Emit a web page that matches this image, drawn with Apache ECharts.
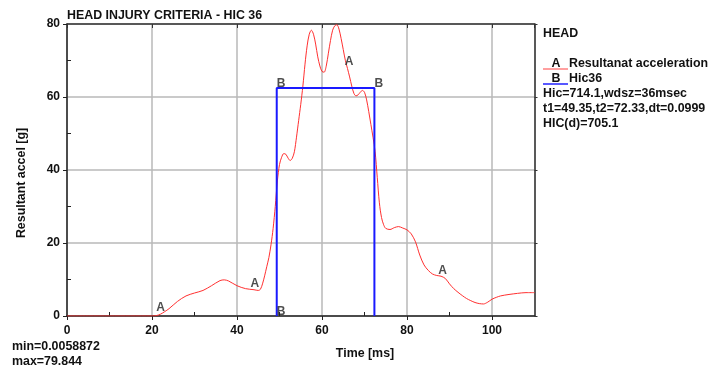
<!DOCTYPE html>
<html>
<head>
<meta charset="utf-8">
<script src="https://cdn.jsdelivr.net/npm/echarts@6/dist/echarts.min.js"></script>
<style>
html,body{margin:0;padding:0;background:#fff;}
#c{width:719px;height:368px;}
</style>
</head>
<body>
<div id="c"></div>
<script>
// ---- data ----
var timeMs = [0,5,10,15,20,21,22,23,24,26,28,30,32,34,36,37,38,40,42,44,45,45.5,46,46.5,47,47.5,48,48.5,49,49.5,50,50.5,51,51.5,52,52.5,53,53.5,54,54.5,55,55.5,56,56.5,57,57.5,58,58.5,59,59.5,60,60.5,61,61.5,62,62.5,63,63.5,64,64.5,65,65.5,66,66.5,67,67.5,68,68.5,69,69.5,70,70.5,71,71.5,72,72.5,73,73.5,74,74.5,75,76,77,78,79,80,81,82,83,84,85,86,87,88,89,90,91,92,93,94,95,96,97,98,99,100,101,102,104,106,108,110];
var accel = [0,0,0,0,0,0.1,0.5,1.2,2.0,4.0,5.5,6.3,7.0,8.3,9.7,9.9,9.6,8.3,7.5,7.2,7.0,7.3,8.8,11,13.5,16,19.5,24,30,37,41.5,43.5,44.5,44.3,43.3,42.6,43.2,45,49,53.5,58,63,69,74,77.2,78.3,77.2,74.5,71,68.5,67,66.8,68.5,72,75.5,78.3,79.5,79.8,78.6,76,73,70,67.8,65.5,63,61,60.3,60.6,61.3,61.8,61.3,59.2,56,52.5,49,45,38,31,27,25,24,23.7,24.2,24.5,24.1,23.6,22.5,20.3,16.7,14,12.5,11.5,11.1,10.9,10.3,8.8,7.5,6.5,5.6,4.8,4.2,3.7,3.4,3.3,3.8,4.6,5.1,5.5,5.9,6.2,6.4,6.4];
var hicTime = [49.35,49.35,72.33,72.33];
var hicValue = [0,62.5,62.5,0];
var markA = [[22,0.5],[44.2,7.2],[66.4,68],[88.4,10.8],[110.2,6.4]];
var markB = [[49.35,0],[49.35,62.5],[72.33,62.5]];
var xTicks = [0,20,40,60,80,100];
var yTicks = [0,20,40,60,80];
var titleText = 'HEAD INJURY CRITERIA - HIC 36';
var legendHeader = 'HEAD';
var legendA = 'Resultanat acceleration';
var legendB = 'Hic36';
var infoLines = ['Hic=714.1,wdsz=36msec','t1=49.35,t2=72.33,dt=0.0999','HIC(d)=705.1'];
var minMax = ['min=0.0058872','max=79.844'];
var xName = 'Time [ms]';
var yName = 'Resultant accel [g]';

var FONT = 'bold 12.4px "Liberation Sans", Arial, sans-serif';
var FF = '"Liberation Sans", Arial, sans-serif';
var chart = echarts.init(document.getElementById('c'), null, {renderer:'canvas'});

function zip(a,b){return a.map(function(v,i){return [v,b[i]];});}

function txt(x,y,t,extra){
  var s = {x:x,y:y,text:t,font:FONT,fill:'#111',textVerticalAlign:'middle'};
  if(extra){for(var k in extra){s[k]=extra[k];}}
  return {type:'text',style:s,silent:true};
}

var graphics = [
  txt(67,15.5,titleText),
  txt(543,34,legendHeader),
  {type:'line',shape:{x1:543,y1:69,x2:568,y2:69},style:{stroke:'#ff4040',lineWidth:1}},
  txt(556,64,'A',{textAlign:'center'}),
  txt(569,64,legendA,{width:141,overflow:'truncate',ellipsis:''}),
  {type:'line',shape:{x1:543,y1:84,x2:568,y2:84},style:{stroke:'#2020ff',lineWidth:1.5}},
  txt(556,79,'B',{textAlign:'center'}),
  txt(569,79,legendB),
  txt(543,94,infoLines[0]),
  txt(543,109,infoLines[1]),
  txt(543,124,infoLines[2]),
  txt(12,346.5,minMax[0]),
  txt(12,361.5,minMax[1]),
  txt(365,354,xName,{textAlign:'center'}),
  {type:'text',x:22,y:183,rotation:Math.PI/2,silent:true,
   style:{x:0,y:0,text:yName,font:FONT,fill:'#111',textAlign:'center',textVerticalAlign:'middle'}}
];

var axisTxt = {color:'#111',fontWeight:'bold',fontSize:12,fontFamily:FF};

var option = {
  animation:false,
  backgroundColor:'#fff',
  grid:{left:67,right:184.5,top:24,bottom:52,show:false},
  xAxis:[
    {type:'value',position:'bottom',min:0,max:110,interval:20,
     axisLine:{show:true,onZero:false,lineStyle:{color:'#222',width:1.5}},
     axisTick:{show:true,length:4,lineStyle:{color:'#222'}},
     axisLabel:Object.assign({margin:9,showMaxLabel:false,
        formatter:function(v){return xTicks.indexOf(v)>=0?String(v):'';}},axisTxt),
     splitLine:{show:true,lineStyle:{color:'#b8b8b8',width:1.5}}},
    {type:'value',position:'bottom',min:0,max:110,interval:20,
     axisLine:{show:false},axisLabel:{show:false},splitLine:{show:false},
     axisTick:{show:false,inside:true},
     minorTick:{show:true,splitNumber:2,length:4,lineStyle:{color:'#222'}}},
    {type:'value',position:'top',min:0,max:110,interval:20,
     axisLine:{show:true,onZero:false,lineStyle:{color:'#333',width:1.5}},
     axisTick:{show:true,inside:true,length:4,lineStyle:{color:'#333'}},
     axisLabel:{show:false},splitLine:{show:false}}
  ],
  yAxis:[
    {type:'value',position:'left',min:0,max:80,interval:20,
     axisLine:{show:true,onZero:false,lineStyle:{color:'#222',width:1.5}},
     axisTick:{show:true,length:4,lineStyle:{color:'#222'}},
     axisLabel:Object.assign({margin:7,
        formatter:function(v){return yTicks.indexOf(v)>=0?String(v):'';}},axisTxt),
     splitLine:{show:true,lineStyle:{color:'#b8b8b8',width:1.5}}},
    {type:'value',position:'left',min:0,max:80,interval:20,
     axisLine:{show:false},axisLabel:{show:false},splitLine:{show:false},
     axisTick:{show:false,inside:true},
     minorTick:{show:true,splitNumber:2,length:4,lineStyle:{color:'#222'}}},
    {type:'value',position:'right',min:0,max:80,interval:20,
     axisLine:{show:true,onZero:false,lineStyle:{color:'#333',width:1.5}},
     axisTick:{show:true,length:3,lineStyle:{color:'#333'}},
     axisLabel:{show:false},splitLine:{show:false}}
  ],
  series:[
    {type:'line',name:'A',data:zip(timeMs,accel),showSymbol:false,smooth:0.3,
     lineStyle:{color:'#ff3030',width:1},z:3},
    {type:'line',name:'B',data:zip(hicTime,hicValue),showSymbol:false,smooth:false,
     lineStyle:{color:'#1a1aff',width:2},z:4},
    {type:'scatter',data:markA,symbolSize:0,z:5,
     label:{show:true,formatter:'A',position:[0,0],align:'center',verticalAlign:'bottom',
       color:'#222',fontWeight:'bold',fontSize:12,fontFamily:FF}},
    {type:'scatter',data:markB,symbolSize:0,z:5,
     label:{show:true,formatter:'B',position:[0,0],align:'left',verticalAlign:'bottom',offset:[0,2],
       color:'#222',fontWeight:'bold',fontSize:12,fontFamily:FF}}
  ],
  graphic:graphics
};
chart.setOption(option);
</script>
</body>
</html>
